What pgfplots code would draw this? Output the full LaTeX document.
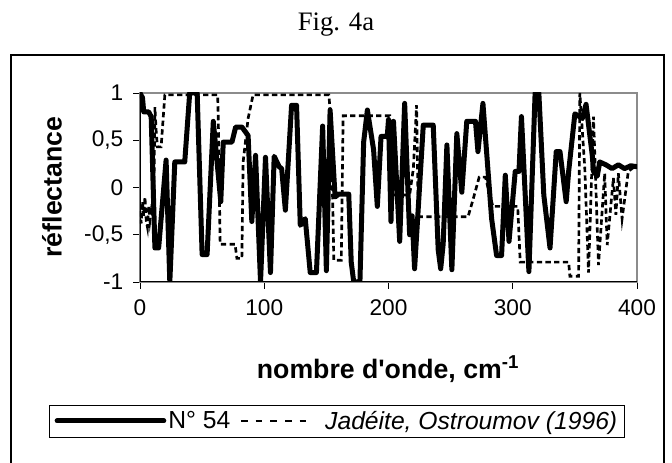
\documentclass[border=0pt]{standalone}
\usepackage{pgfplots}
\pgfplotsset{compat=1.18}
\usepackage{fontspec}
\setmainfont{Liberation Sans}
\newfontfamily\serif{Liberation Serif}
% same face without TeX ligatures, so that ' stays a straight quote
\newfontfamily\plainsans{Liberation Sans}

% N° 54 reflectance spectrum
\newcommand{\sampleA}{
(0,1.0) (2,0.95) (3,0.80) (7,0.80) (9,0.75) (12,-0.64) (15,-0.64) (21,0.29) (24,-1.0)
(28,0.27) (36,0.27) (40,1.0) (46,1.0) (50,-0.71) (54,-0.71) (59,0.70) (65,-0.15)
(67,0.48) (74,0.48) (77,0.64) (82,0.64) (87,0.55) (90,-0.36) (93,0.34) (97,-1.0)
(101,0.32) (105,-0.90) (108,0.33) (112,0.22) (114,0.20) (117,-0.24) (122,0.87)
(126,0.87) (129,-0.40) (133,-0.33) (137,-0.90) (142,-0.90) (147,0.65) (150,-0.88)
(153,0.82) (157,-0.10) (160,-0.07) (168,-0.07) (170,-0.79) (172,-1.0) (177,-1.0)
(180,0.48) (183,0.82) (188,0.40) (191,-0.20) (194,0.54) (199,0.54) (200,0.72)
(202,-0.36) (204,0.70) (209,-0.57) (213,0.89) (217,-0.50) (219,-0.30) (221,-0.86)
(228,0.66) (236,0.66) (240,-0.66) (242,-0.86) (244,-0.60) (247,0.45) (251,-0.87)
(255,0.57) (259,-0.05) (263,0.70) (270,0.70) (272,0.38) (276,0.89) (283,-0.33)
(287,-0.72) (291,-0.72) (294,0.13) (297,-0.57) (302,0.17) (305,0.17) (307,0.75)
(313,-0.89) (318,1.0) (321,1.0) (325,-0.08) (330,-0.64) (335,0.38) (338,0.38)
(343,-0.15) (345,0.17) (350,0.78) (356,0.73) (359,0.88) (364,0.34) (365,0.17)
(368,0.12) (370,0.27) (375,0.24) (380,0.20) (385,0.24) (390,0.20) (395,0.23) (400,0.22)
}

% Jadeite reference spectrum (Ostroumov, 1996)
\newcommand{\sampleB}{
(0,-0.25) (1,-0.38) (2,-0.15) (3,-0.30) (4,-0.10) (5,-0.35) (6,-0.42) (7,-0.20)
(8,-0.35) (9,-0.25) (10,-0.30) (11,-0.28) (12,0.85) (13,0.60) (14,0.43) (17,0.43)
(20,0.98) (62.5,0.98) (63,0.73) (64.5,-0.60) (76.5,-0.60) (78,-0.75) (82,-0.75)
(83,0.27) (87,0.73) (91,0.98) (152,0.98) (153,0.82) (155,-0.10) (156,-0.77)
(162,-0.77) (163.5,0.76) (201,0.76) (202.5,-0.08) (217,-0.08) (220,0.20) (222.6,0.87)
(224,-0.31) (264,-0.31) (268,-0.13) (273,0.11) (278,0.11) (281,-0.05) (284,-0.20)
(304,-0.20) (306,-0.79) (345,-0.79) (346,-0.94) (353,-0.94) (354,1.0) (358,0.20)
(361,-0.90) (365,0.75) (369,-0.82) (374,0.15) (376,-0.61) (381,0.10) (383,-0.29)
(385,0.15) (388,-0.33) (393,0.17) (398,0.22)
}

\begin{document}
\begin{tikzpicture}
\useasboundingbox (0pt,0pt) rectangle (504pt,347.25pt);
% outer chart frame
\draw[line width=0.9pt] (8.25pt,-5pt) -- (8.25pt,306pt) -- (498pt,306pt) -- (498pt,-5pt);
% title
\node[font=\serif\fontsize{20}{24}\selectfont] at (252pt,329pt) {Fig. 4a};
% axis titles
\node[rotate=90, font=\bfseries\fontsize{20}{24}\selectfont] at (39pt,207pt) {réflectance};
\node[font=\plainsans\bfseries\fontsize{20}{24}\selectfont] at (291pt,70.5pt)
  {nombre d'onde, cm\textsuperscript{-1}};

\begin{axis}[
  at={(105pt,135.75pt)}, anchor=south west,
  scale only axis, width=372.75pt, height=141.75pt,
  xmin=0, xmax=400, ymin=-1, ymax=1,
  xtick={0,100,200,300,400},
  xticklabels={0,100,200,300,400},
  ytick={-1,-0.5,0,0.5,1},
  yticklabels={-1,{-0,5},0,{0,5},1},
  xtick pos=left, ytick pos=left,
  tick align=outside,
  major tick length=5pt,
  tick style={black, line width=0.6pt},
  axis line style={draw=gray!90, line width=1pt},
  ticklabel style={font=\fontsize{17}{20}\selectfont},
  xticklabel style={yshift=-5pt},
  yticklabel style={xshift=-4pt},
  clip=true,
  legend columns=2,
  legend style={
    at={(axis description cs:0.9758,-0.7354)}, anchor=east,
    draw=black, line width=0.6pt, inner xsep=4pt, inner ysep=2.5pt,
    font=\fontsize{18.5}{22}\selectfont,
    nodes={inner xsep=1.5pt, inner ysep=2pt},
    /tikz/column 2/.style={column sep=6pt},
    /tikz/column 3/.style={column sep=11pt},
  },
]
\addplot[black, line width=3.75pt, line join=round, line cap=round,
  legend image code/.code={\draw[black, line width=3.75pt] (0pt,0pt) -- (80pt,0pt);}]
  coordinates {\sampleA};
\addlegendentry{N° 54}
\addplot[black, line width=2pt, dash pattern=on 4pt off 2.5pt,
  legend image code/.code={\draw[black, line width=1.2pt, dash pattern=on 5pt off 6pt] (0pt,0pt) -- (50pt,0pt);}]
  coordinates {\sampleB};
\addlegendentry{\textit{Jadéite, Ostroumov (1996)}}
% left and bottom axis lines are darker than the top and right ones
\draw[black, line width=1pt] (rel axis cs:0,1) -- (rel axis cs:0,0) -- (rel axis cs:1,0);
\end{axis}
\end{tikzpicture}
\end{document}
